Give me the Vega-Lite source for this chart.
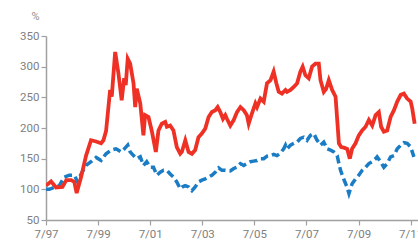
{
  "$schema": "https://vega.github.io/schema/vega-lite/v6.json",
  "width": 372,
  "height": 184,
  "autosize": "none",
  "padding": {"left": 46, "top": 36, "right": 0, "bottom": 20},
  "background": "white",
  "config": {"view": {"stroke": null}, "font": "Roboto"},
  "datasets": {
    "red": [
      {"d":"1997-07-01","v":106},{"d":"1997-09-10","v":113},{"d":"1997-11-19","v":103},{"d":"1998-02-16","v":104},
      {"d":"1998-04-12","v":115},{"d":"1998-06-21","v":115},{"d":"1998-08-02","v":112},{"d":"1998-09-04","v":94},
      {"d":"1998-11-05","v":120},{"d":"1999-01-14","v":155},{"d":"1999-03-24","v":180},{"d":"1999-06-03","v":178},
      {"d":"1999-08-12","v":175},{"d":"1999-09-14","v":180},{"d":"1999-10-21","v":195},{"d":"1999-12-17","v":262},
      {"d":"2000-01-09","v":251},{"d":"2000-02-26","v":324},{"d":"2000-04-12","v":289},{"d":"2000-05-27","v":245},
      {"d":"2000-07-01","v":281},{"d":"2000-07-23","v":270},{"d":"2000-08-20","v":313},{"d":"2000-09-23","v":305},
      {"d":"2000-11-09","v":273},{"d":"2000-12-03","v":234},{"d":"2000-12-25","v":264},{"d":"2001-02-12","v":240},
      {"d":"2001-03-28","v":188},{"d":"2001-04-21","v":221},{"d":"2001-06-07","v":218},{"d":"2001-07-22","v":196},
      {"d":"2001-09-18","v":161},{"d":"2001-10-25","v":196},{"d":"2001-12-11","v":207},{"d":"2002-01-28","v":210},
      {"d":"2002-02-20","v":202},{"d":"2002-04-07","v":204},{"d":"2002-05-23","v":196},{"d":"2002-07-09","v":169},
      {"d":"2002-08-26","v":158},{"d":"2002-09-18","v":161},{"d":"2002-11-05","v":180},{"d":"2002-12-21","v":161},
      {"d":"2003-02-06","v":158},{"d":"2003-03-24","v":164},{"d":"2003-05-09","v":185},{"d":"2003-06-25","v":191},
      {"d":"2003-08-12","v":199},{"d":"2003-09-28","v":218},{"d":"2003-11-13","v":226},{"d":"2004-01-01","v":229},
      {"d":"2004-02-02","v":234},{"d":"2004-03-10","v":226},{"d":"2004-04-16","v":215},{"d":"2004-05-19","v":221},
      {"d":"2004-06-11","v":215},{"d":"2004-07-28","v":204},{"d":"2004-09-14","v":213},{"d":"2004-10-30","v":226},
      {"d":"2004-12-17","v":234},{"d":"2005-02-02","v":229},{"d":"2005-03-18","v":221},{"d":"2005-04-12","v":207},
      {"d":"2005-05-28","v":224},{"d":"2005-07-15","v":240},{"d":"2005-08-07","v":234},{"d":"2005-09-24","v":248},
      {"d":"2005-11-09","v":243},{"d":"2005-12-25","v":273},{"d":"2006-02-12","v":278},{"d":"2006-03-28","v":292},
      {"d":"2006-05-05","v":273},{"d":"2006-06-07","v":259},{"d":"2006-07-22","v":256},{"d":"2006-09-10","v":262},
      {"d":"2006-10-02","v":259},{"d":"2006-11-19","v":262},{"d":"2007-01-04","v":267},{"d":"2007-02-20","v":273},
      {"d":"2007-04-07","v":292},{"d":"2007-05-09","v":300},{"d":"2007-06-16","v":286},{"d":"2007-08-02","v":281},
      {"d":"2007-09-18","v":300},{"d":"2007-11-05","v":305},{"d":"2007-12-21","v":305},{"d":"2008-01-14","v":278},
      {"d":"2008-02-29","v":259},{"d":"2008-04-02","v":264},{"d":"2008-05-09","v":278},{"d":"2008-06-25","v":262},
      {"d":"2008-08-12","v":251},{"d":"2008-09-28","v":175},{"d":"2008-10-30","v":169},{"d":"2008-12-07","v":168},
      {"d":"2009-01-22","v":166},{"d":"2009-02-28","v":150},{"d":"2009-04-01","v":166},{"d":"2009-05-19","v":175},
      {"d":"2009-07-04","v":188},{"d":"2009-08-20","v":196},{"d":"2009-10-07","v":202},{"d":"2009-11-22","v":213},
      {"d":"2010-01-08","v":204},{"d":"2010-02-25","v":221},{"d":"2010-04-11","v":226},{"d":"2010-05-13","v":202},
      {"d":"2010-06-20","v":194},{"d":"2010-08-06","v":196},{"d":"2010-09-23","v":218},{"d":"2010-11-09","v":229},
      {"d":"2010-12-25","v":243},{"d":"2011-02-12","v":254},{"d":"2011-03-28","v":256},{"d":"2011-05-13","v":248},
      {"d":"2011-07-01","v":243},{"d":"2011-07-23","v":232},{"d":"2011-08-26","v":207}
    ],
    "blue": [
      {"d":"1997-07-01","v":100},{"d":"1997-08-16","v":100},{"d":"1997-10-25","v":103},{"d":"1998-01-04","v":106},
      {"d":"1998-03-14","v":120},{"d":"1998-05-23","v":123},{"d":"1998-08-02","v":123},{"d":"1998-09-18","v":112},
      {"d":"1998-11-05","v":125},{"d":"1999-01-14","v":139},{"d":"1999-03-24","v":145},{"d":"1999-06-03","v":152},
      {"d":"1999-08-12","v":147},{"d":"1999-10-21","v":158},{"d":"2000-01-01","v":164},{"d":"2000-03-10","v":166},
      {"d":"2000-05-19","v":161},{"d":"2000-07-04","v":166},{"d":"2000-08-20","v":172},{"d":"2000-09-23","v":161},
      {"d":"2000-11-09","v":155},{"d":"2000-12-25","v":150},{"d":"2001-02-12","v":153},{"d":"2001-03-28","v":139},
      {"d":"2001-05-13","v":145},{"d":"2001-07-01","v":136},{"d":"2001-08-16","v":136},{"d":"2001-10-02","v":123},
      {"d":"2001-11-19","v":128},{"d":"2002-01-04","v":131},{"d":"2002-02-20","v":131},{"d":"2002-04-07","v":125},
      {"d":"2002-05-23","v":120},{"d":"2002-07-09","v":112},{"d":"2002-08-26","v":101},{"d":"2002-09-27","v":104},
      {"d":"2002-11-05","v":106},{"d":"2002-12-21","v":104},{"d":"2003-02-06","v":98},{"d":"2003-03-24","v":104},
      {"d":"2003-05-09","v":112},{"d":"2003-06-25","v":115},{"d":"2003-08-12","v":117},{"d":"2003-09-28","v":120},
      {"d":"2003-11-13","v":123},{"d":"2004-01-01","v":128},{"d":"2004-02-16","v":135},{"d":"2004-04-02","v":131},
      {"d":"2004-05-19","v":131},{"d":"2004-07-28","v":130},{"d":"2004-09-14","v":134},{"d":"2004-10-30","v":136},
      {"d":"2004-12-17","v":142},{"d":"2005-02-02","v":139},{"d":"2005-03-18","v":142},{"d":"2005-05-05","v":145},
      {"d":"2005-06-21","v":146},{"d":"2005-08-07","v":147},{"d":"2005-09-24","v":150},{"d":"2005-11-09","v":150},
      {"d":"2005-12-25","v":154},{"d":"2006-02-12","v":155},{"d":"2006-03-28","v":157},{"d":"2006-05-13","v":155},
      {"d":"2006-07-01","v":159},{"d":"2006-08-16","v":166},{"d":"2006-09-10","v":172},{"d":"2006-10-02","v":166},
      {"d":"2006-11-19","v":172},{"d":"2007-01-04","v":175},{"d":"2007-02-20","v":177},{"d":"2007-04-07","v":183},
      {"d":"2007-05-23","v":185},{"d":"2007-07-09","v":180},{"d":"2007-08-26","v":188},{"d":"2007-10-11","v":191},
      {"d":"2007-11-27","v":180},{"d":"2008-01-14","v":172},{"d":"2008-02-29","v":177},{"d":"2008-04-16","v":166},
      {"d":"2008-06-02","v":164},{"d":"2008-07-18","v":161},{"d":"2008-09-04","v":155},{"d":"2008-09-28","v":142},
      {"d":"2008-10-21","v":131},{"d":"2008-12-07","v":116},{"d":"2009-01-22","v":103},{"d":"2009-02-16","v":93},
      {"d":"2009-04-01","v":109},{"d":"2009-05-19","v":117},{"d":"2009-07-04","v":123},{"d":"2009-08-20","v":131},
      {"d":"2009-10-07","v":136},{"d":"2009-11-22","v":142},{"d":"2010-01-08","v":145},{"d":"2010-02-25","v":150},
      {"d":"2010-03-18","v":153},{"d":"2010-05-05","v":145},{"d":"2010-06-20","v":136},{"d":"2010-08-06","v":142},
      {"d":"2010-09-23","v":153},{"d":"2010-11-09","v":155},{"d":"2010-12-25","v":166},{"d":"2011-02-12","v":172},
      {"d":"2011-03-28","v":176},{"d":"2011-05-13","v":175},{"d":"2011-07-01","v":169},{"d":"2011-08-16","v":153}
    ]
  },
  "encoding": {
    "x": {
      "field": "d", "type": "temporal",
      "scale": {"type": "utc", "domain": [{"year": 1997, "month": 7, "date": 1, "utc": true}, {"year": 2011, "month": 10, "date": 12, "utc": true}]},
      "axis": {
        "title": null,
        "values": [
          {"year": 1997, "month": 7, "date": 1, "utc": true},
          {"year": 1999, "month": 7, "date": 1, "utc": true},
          {"year": 2001, "month": 7, "date": 1, "utc": true},
          {"year": 2003, "month": 7, "date": 1, "utc": true},
          {"year": 2005, "month": 7, "date": 1, "utc": true},
          {"year": 2007, "month": 7, "date": 1, "utc": true},
          {"year": 2009, "month": 7, "date": 1, "utc": true},
          {"year": 2011, "month": 7, "date": 1, "utc": true}
        ],
        "labelExpr": "utcFormat(datum.value, '%-m/%y')",
        "grid": false, "domainColor": "#a0a0a0", "domainWidth": 1.5, "tickColor": "#a0a0a0", "tickWidth": 1.2, "tickSize": 5,
        "labelColor": "#808080", "labelFontSize": 11.5, "labelPadding": 3, "labelFlush": false, "labelOverlap": false
      }
    },
    "y": {
      "field": "v", "type": "quantitative",
      "scale": {"domain": [50, 350], "nice": false, "zero": false},
      "axis": {
        "values": [50, 100, 150, 200, 250, 300, 350],
        "tickCount": 7,
        "title": "%", "titleAngle": 0, "titleX": -11, "titleY": -20, "titleAlign": "center", "titleBaseline": "middle",
        "titleColor": "#909090", "titleFontSize": 11, "titleFontWeight": "normal",
        "grid": false, "domainColor": "#a0a0a0", "domainWidth": 1.5, "tickColor": "#a0a0a0", "tickWidth": 1.2, "tickSize": 5,
        "labelColor": "#808080", "labelFontSize": 11.5, "labelPadding": 2, "labelOverlap": false, "labelBound": false, "labelFlush": false
      }
    }
  },
  "layer": [
    {
      "data": {"name": "blue"},
      "mark": {"type": "line", "color": "#1a7cc4", "strokeWidth": 3.5, "strokeDash": [8, 4], "clip": true}
    },
    {
      "data": {"name": "red"},
      "mark": {"type": "line", "color": "#ee3124", "strokeWidth": 3.8, "clip": true}
    }
  ]
}
